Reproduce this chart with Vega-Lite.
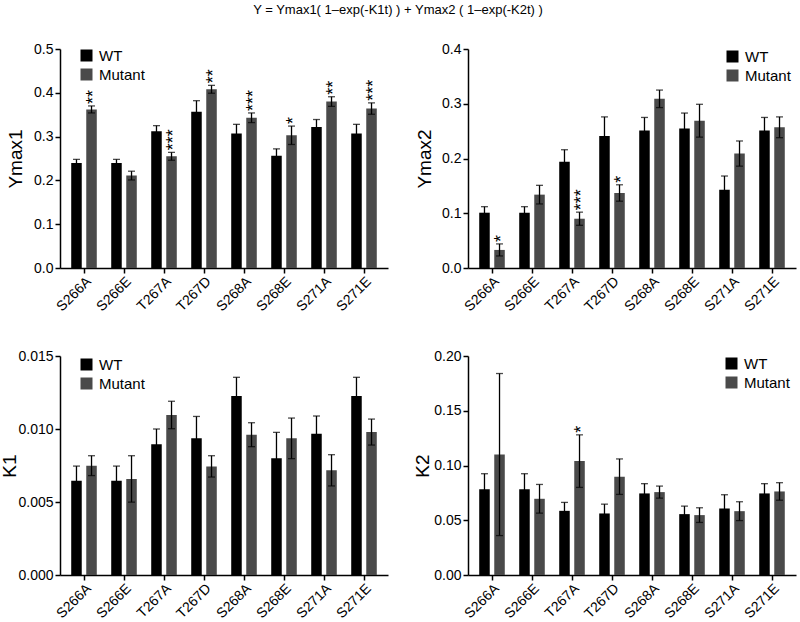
{
  "$schema": "https://vega.github.io/schema/vega-lite/v6.json",
  "description": "Two-phase fit parameters, WT vs mutant",
  "title": {"text": "Y = Ymax1( 1–exp(-K1t) ) + Ymax2 ( 1–exp(-K2t) )", "fontSize": 13, "fontWeight": "normal", "anchor": "middle", "offset": 25, "color": "black"},
  "padding": {"left": 0, "top": 4, "right": 4, "bottom": 4},
  "bounds": "flush",
  "columns": 2,
  "spacing": {"row": 88, "column": 80},
  "datasets": {
    "ymax1": [
      {"mutation": "S266A", "genotype": "WT", "mean": 0.240, "lo": 0.232, "hi": 0.248, "sig": ""},
      {"mutation": "S266A", "genotype": "Mutant", "mean": 0.362, "lo": 0.354, "hi": 0.370, "sig": "**"},
      {"mutation": "S266E", "genotype": "WT", "mean": 0.240, "lo": 0.232, "hi": 0.248, "sig": ""},
      {"mutation": "S266E", "genotype": "Mutant", "mean": 0.211, "lo": 0.201, "hi": 0.221, "sig": ""},
      {"mutation": "T267A", "genotype": "WT", "mean": 0.312, "lo": 0.299, "hi": 0.325, "sig": ""},
      {"mutation": "T267A", "genotype": "Mutant", "mean": 0.255, "lo": 0.246, "hi": 0.264, "sig": "***"},
      {"mutation": "T267D", "genotype": "WT", "mean": 0.357, "lo": 0.332, "hi": 0.382, "sig": ""},
      {"mutation": "T267D", "genotype": "Mutant", "mean": 0.408, "lo": 0.399, "hi": 0.417, "sig": "**"},
      {"mutation": "S268A", "genotype": "WT", "mean": 0.307, "lo": 0.286, "hi": 0.328, "sig": ""},
      {"mutation": "S268A", "genotype": "Mutant", "mean": 0.343, "lo": 0.332, "hi": 0.354, "sig": "***"},
      {"mutation": "S268E", "genotype": "WT", "mean": 0.256, "lo": 0.240, "hi": 0.272, "sig": ""},
      {"mutation": "S268E", "genotype": "Mutant", "mean": 0.303, "lo": 0.282, "hi": 0.324, "sig": "*"},
      {"mutation": "S271A", "genotype": "WT", "mean": 0.322, "lo": 0.305, "hi": 0.339, "sig": ""},
      {"mutation": "S271A", "genotype": "Mutant", "mean": 0.380, "lo": 0.369, "hi": 0.391, "sig": "**"},
      {"mutation": "S271E", "genotype": "WT", "mean": 0.307, "lo": 0.286, "hi": 0.328, "sig": ""},
      {"mutation": "S271E", "genotype": "Mutant", "mean": 0.364, "lo": 0.351, "hi": 0.377, "sig": "***"}
    ],
    "ymax2": [
      {"mutation": "S266A", "genotype": "WT", "mean": 0.101, "lo": 0.090, "hi": 0.112, "sig": ""},
      {"mutation": "S266A", "genotype": "Mutant", "mean": 0.033, "lo": 0.022, "hi": 0.044, "sig": "*"},
      {"mutation": "S266E", "genotype": "WT", "mean": 0.101, "lo": 0.090, "hi": 0.112, "sig": ""},
      {"mutation": "S266E", "genotype": "Mutant", "mean": 0.134, "lo": 0.117, "hi": 0.151, "sig": ""},
      {"mutation": "T267A", "genotype": "WT", "mean": 0.194, "lo": 0.172, "hi": 0.216, "sig": ""},
      {"mutation": "T267A", "genotype": "Mutant", "mean": 0.090, "lo": 0.078, "hi": 0.102, "sig": "***"},
      {"mutation": "T267D", "genotype": "WT", "mean": 0.241, "lo": 0.206, "hi": 0.276, "sig": ""},
      {"mutation": "T267D", "genotype": "Mutant", "mean": 0.137, "lo": 0.122, "hi": 0.152, "sig": "*"},
      {"mutation": "S268A", "genotype": "WT", "mean": 0.251, "lo": 0.227, "hi": 0.275, "sig": ""},
      {"mutation": "S268A", "genotype": "Mutant", "mean": 0.309, "lo": 0.293, "hi": 0.325, "sig": ""},
      {"mutation": "S268E", "genotype": "WT", "mean": 0.255, "lo": 0.227, "hi": 0.283, "sig": ""},
      {"mutation": "S268E", "genotype": "Mutant", "mean": 0.269, "lo": 0.239, "hi": 0.299, "sig": ""},
      {"mutation": "S271A", "genotype": "WT", "mean": 0.143, "lo": 0.118, "hi": 0.168, "sig": ""},
      {"mutation": "S271A", "genotype": "Mutant", "mean": 0.209, "lo": 0.186, "hi": 0.232, "sig": ""},
      {"mutation": "S271E", "genotype": "WT", "mean": 0.251, "lo": 0.227, "hi": 0.275, "sig": ""},
      {"mutation": "S271E", "genotype": "Mutant", "mean": 0.257, "lo": 0.238, "hi": 0.276, "sig": ""}
    ],
    "k1": [
      {"mutation": "S266A", "genotype": "WT", "mean": 0.00646, "lo": 0.00546, "hi": 0.00746, "sig": ""},
      {"mutation": "S266A", "genotype": "Mutant", "mean": 0.00749, "lo": 0.00681, "hi": 0.00817, "sig": ""},
      {"mutation": "S266E", "genotype": "WT", "mean": 0.00646, "lo": 0.00546, "hi": 0.00746, "sig": ""},
      {"mutation": "S266E", "genotype": "Mutant", "mean": 0.00658, "lo": 0.00499, "hi": 0.00817, "sig": ""},
      {"mutation": "T267A", "genotype": "WT", "mean": 0.00895, "lo": 0.00790, "hi": 0.01000, "sig": ""},
      {"mutation": "T267A", "genotype": "Mutant", "mean": 0.01096, "lo": 0.01002, "hi": 0.01190, "sig": ""},
      {"mutation": "T267D", "genotype": "WT", "mean": 0.00936, "lo": 0.00786, "hi": 0.01086, "sig": ""},
      {"mutation": "T267D", "genotype": "Mutant", "mean": 0.00744, "lo": 0.00671, "hi": 0.00817, "sig": ""},
      {"mutation": "S268A", "genotype": "WT", "mean": 0.01226, "lo": 0.01098, "hi": 0.01354, "sig": ""},
      {"mutation": "S268A", "genotype": "Mutant", "mean": 0.00961, "lo": 0.00879, "hi": 0.01043, "sig": ""},
      {"mutation": "S268E", "genotype": "WT", "mean": 0.00799, "lo": 0.00621, "hi": 0.00977, "sig": ""},
      {"mutation": "S268E", "genotype": "Mutant", "mean": 0.00936, "lo": 0.00797, "hi": 0.01075, "sig": ""},
      {"mutation": "S271A", "genotype": "WT", "mean": 0.00968, "lo": 0.00847, "hi": 0.01089, "sig": ""},
      {"mutation": "S271A", "genotype": "Mutant", "mean": 0.00717, "lo": 0.00610, "hi": 0.00824, "sig": ""},
      {"mutation": "S271E", "genotype": "WT", "mean": 0.01226, "lo": 0.01098, "hi": 0.01354, "sig": ""},
      {"mutation": "S271E", "genotype": "Mutant", "mean": 0.00979, "lo": 0.00890, "hi": 0.01068, "sig": ""}
    ],
    "k2": [
      {"mutation": "S266A", "genotype": "WT", "mean": 0.0782, "lo": 0.0639, "hi": 0.0925, "sig": ""},
      {"mutation": "S266A", "genotype": "Mutant", "mean": 0.110, "lo": 0.036, "hi": 0.184, "sig": ""},
      {"mutation": "S266E", "genotype": "WT", "mean": 0.0782, "lo": 0.0639, "hi": 0.0925, "sig": ""},
      {"mutation": "S266E", "genotype": "Mutant", "mean": 0.0696, "lo": 0.0565, "hi": 0.0827, "sig": ""},
      {"mutation": "T267A", "genotype": "WT", "mean": 0.0586, "lo": 0.0509, "hi": 0.0663, "sig": ""},
      {"mutation": "T267A", "genotype": "Mutant", "mean": 0.104, "lo": 0.080, "hi": 0.128, "sig": "*"},
      {"mutation": "T267D", "genotype": "WT", "mean": 0.0562, "lo": 0.0477, "hi": 0.0647, "sig": ""},
      {"mutation": "T267D", "genotype": "Mutant", "mean": 0.0898, "lo": 0.0736, "hi": 0.106, "sig": ""},
      {"mutation": "S268A", "genotype": "WT", "mean": 0.0745, "lo": 0.0656, "hi": 0.0834, "sig": ""},
      {"mutation": "S268A", "genotype": "Mutant", "mean": 0.0757, "lo": 0.0702, "hi": 0.0812, "sig": ""},
      {"mutation": "S268E", "genotype": "WT", "mean": 0.0556, "lo": 0.0483, "hi": 0.0629, "sig": ""},
      {"mutation": "S268E", "genotype": "Mutant", "mean": 0.0547, "lo": 0.0480, "hi": 0.0614, "sig": ""},
      {"mutation": "S271A", "genotype": "WT", "mean": 0.0608, "lo": 0.0483, "hi": 0.0733, "sig": ""},
      {"mutation": "S271A", "genotype": "Mutant", "mean": 0.0583, "lo": 0.0497, "hi": 0.0669, "sig": ""},
      {"mutation": "S271E", "genotype": "WT", "mean": 0.0745, "lo": 0.0656, "hi": 0.0834, "sig": ""},
      {"mutation": "S271E", "genotype": "Mutant", "mean": 0.0763, "lo": 0.0683, "hi": 0.0843, "sig": ""}
    ]
  },
  "concat": [
    {
      "width": 328, "height": 219,
      "data": {"name": "ymax1"},
      "encoding": {
        "x": {"field": "mutation", "type": "nominal", "sort": null, "scale": {"paddingInner": 0, "paddingOuter": 0.1}, "axis": {"title": null, "labelAngle": -45}},
        "xOffset": {"field": "genotype", "type": "nominal", "sort": ["WT", "Mutant"], "scale": {"paddingInner": 0.3, "paddingOuter": 0.48}}
      },
      "layer": [
        {"mark": {"type": "bar"},
         "encoding": {
           "y": {"field": "mean", "type": "quantitative", "title": "Ymax1", "scale": {"domain": [0, 0.5], "nice": false}, "axis": {"values": [0, 0.1, 0.2, 0.3, 0.4, 0.5], "format": ".1f", "titleX": -45, "titleY": 109.5}},
           "color": {"field": "genotype", "type": "nominal", "sort": ["WT", "Mutant"], "scale": {"domain": ["WT", "Mutant"], "range": ["#000000", "#4a4a4a"]}, "legend": {"legendX": 19, "legendY": -1}}
         }},
        {"mark": {"type": "rule", "color": "black", "strokeWidth": 1.3},
         "encoding": {"y": {"field": "lo", "type": "quantitative", "title": "Ymax1"}, "y2": {"field": "hi"}}},
        {"mark": {"type": "tick", "color": "black", "size": 7, "thickness": 1.3},
         "encoding": {"y": {"field": "hi", "type": "quantitative", "title": "Ymax1"}}},
        {"mark": {"type": "tick", "color": "black", "size": 7, "thickness": 1.3},
         "encoding": {"y": {"field": "lo", "type": "quantitative", "title": "Ymax1"}}},
        {"mark": {"type": "text", "color": "black", "angle": 270, "align": "left", "baseline": "middle", "dx": 2, "dy": 2.5, "fontSize": 18},
         "encoding": {"y": {"field": "hi", "type": "quantitative", "title": "Ymax1"}, "text": {"field": "sig"}}}
      ]
    },
    {
      "width": 328, "height": 219,
      "data": {"name": "ymax2"},
      "encoding": {
        "x": {"field": "mutation", "type": "nominal", "sort": null, "scale": {"paddingInner": 0, "paddingOuter": 0.1}, "axis": {"title": null, "labelAngle": -45}},
        "xOffset": {"field": "genotype", "type": "nominal", "sort": ["WT", "Mutant"], "scale": {"paddingInner": 0.3, "paddingOuter": 0.48}}
      },
      "layer": [
        {"mark": {"type": "bar"},
         "encoding": {
           "y": {"field": "mean", "type": "quantitative", "title": "Ymax2", "scale": {"domain": [0, 0.4], "nice": false}, "axis": {"values": [0, 0.1, 0.2, 0.3, 0.4], "format": ".1f", "titleX": -44, "titleY": 109.5}},
           "color": {"field": "genotype", "type": "nominal", "sort": ["WT", "Mutant"], "scale": {"domain": ["WT", "Mutant"], "range": ["#000000", "#4a4a4a"]}, "legend": {"legendX": 257, "legendY": 0}}
         }},
        {"mark": {"type": "rule", "color": "black", "strokeWidth": 1.3},
         "encoding": {"y": {"field": "lo", "type": "quantitative", "title": "Ymax2"}, "y2": {"field": "hi"}}},
        {"mark": {"type": "tick", "color": "black", "size": 7, "thickness": 1.3},
         "encoding": {"y": {"field": "hi", "type": "quantitative", "title": "Ymax2"}}},
        {"mark": {"type": "tick", "color": "black", "size": 7, "thickness": 1.3},
         "encoding": {"y": {"field": "lo", "type": "quantitative", "title": "Ymax2"}}},
        {"mark": {"type": "text", "color": "black", "angle": 270, "align": "left", "baseline": "middle", "dx": 2, "dy": 2.5, "fontSize": 18},
         "encoding": {"y": {"field": "hi", "type": "quantitative", "title": "Ymax2"}, "text": {"field": "sig"}}}
      ]
    },
    {
      "width": 328, "height": 219,
      "data": {"name": "k1"},
      "encoding": {
        "x": {"field": "mutation", "type": "nominal", "sort": null, "scale": {"paddingInner": 0, "paddingOuter": 0.1}, "axis": {"title": null, "labelAngle": -45}},
        "xOffset": {"field": "genotype", "type": "nominal", "sort": ["WT", "Mutant"], "scale": {"paddingInner": 0.3, "paddingOuter": 0.48}}
      },
      "layer": [
        {"mark": {"type": "bar"},
         "encoding": {
           "y": {"field": "mean", "type": "quantitative", "title": "K1", "scale": {"domain": [0, 0.015], "nice": false}, "axis": {"values": [0, 0.005, 0.01, 0.015], "format": ".3f", "titleX": -51, "titleY": 109.5}},
           "color": {"field": "genotype", "type": "nominal", "sort": ["WT", "Mutant"], "scale": {"domain": ["WT", "Mutant"], "range": ["#000000", "#4a4a4a"]}, "legend": {"legendX": 19, "legendY": 1}}
         }},
        {"mark": {"type": "rule", "color": "black", "strokeWidth": 1.3},
         "encoding": {"y": {"field": "lo", "type": "quantitative", "title": "K1"}, "y2": {"field": "hi"}}},
        {"mark": {"type": "tick", "color": "black", "size": 7, "thickness": 1.3},
         "encoding": {"y": {"field": "hi", "type": "quantitative", "title": "K1"}}},
        {"mark": {"type": "tick", "color": "black", "size": 7, "thickness": 1.3},
         "encoding": {"y": {"field": "lo", "type": "quantitative", "title": "K1"}}}
      ]
    },
    {
      "width": 328, "height": 219,
      "data": {"name": "k2"},
      "encoding": {
        "x": {"field": "mutation", "type": "nominal", "sort": null, "scale": {"paddingInner": 0, "paddingOuter": 0.1}, "axis": {"title": null, "labelAngle": -45}},
        "xOffset": {"field": "genotype", "type": "nominal", "sort": ["WT", "Mutant"], "scale": {"paddingInner": 0.3, "paddingOuter": 0.48}}
      },
      "layer": [
        {"mark": {"type": "bar"},
         "encoding": {
           "y": {"field": "mean", "type": "quantitative", "title": "K2", "scale": {"domain": [0, 0.2], "nice": false}, "axis": {"values": [0, 0.05, 0.1, 0.15, 0.2], "format": ".2f", "titleX": -46, "titleY": 109.5}},
           "color": {"field": "genotype", "type": "nominal", "sort": ["WT", "Mutant"], "scale": {"domain": ["WT", "Mutant"], "range": ["#000000", "#4a4a4a"]}, "legend": {"legendX": 256, "legendY": 0}}
         }},
        {"mark": {"type": "rule", "color": "black", "strokeWidth": 1.3},
         "encoding": {"y": {"field": "lo", "type": "quantitative", "title": "K2"}, "y2": {"field": "hi"}}},
        {"mark": {"type": "tick", "color": "black", "size": 7, "thickness": 1.3},
         "encoding": {"y": {"field": "hi", "type": "quantitative", "title": "K2"}}},
        {"mark": {"type": "tick", "color": "black", "size": 7, "thickness": 1.3},
         "encoding": {"y": {"field": "lo", "type": "quantitative", "title": "K2"}}},
        {"mark": {"type": "text", "color": "black", "angle": 270, "align": "left", "baseline": "middle", "dx": 2, "dy": 2.5, "fontSize": 18},
         "encoding": {"y": {"field": "hi", "type": "quantitative", "title": "K2"}, "text": {"field": "sig"}}}
      ]
    }
  ],
  "resolve": {"scale": {"color": "independent"}, "legend": {"color": "independent"}},
  "config": {
    "font": "Liberation Sans",
    "view": {"stroke": null},
    "axis": {
      "grid": false,
      "domainColor": "black",
      "domainWidth": 1.5,
      "tickColor": "black",
      "tickWidth": 1.5,
      "tickSize": 5,
      "labelColor": "black",
      "labelFontSize": 14,
      "labelPadding": 2,
      "titleColor": "black",
      "titleFontSize": 19,
      "titleFontWeight": "normal",
      "titleAngle": -90,
      "titleBaseline": "middle",
      "titleAlign": "center"
    },
    "axisX": {"labelFontSize": 14, "labelPadding": 1},
    "legend": {
      "orient": "none",
      "title": null,
      "symbolType": "square",
      "symbolSize": 144,
      "symbolStrokeWidth": 0,
      "symbolOpacity": 1,
      "labelFontSize": 15,
      "labelColor": "black",
      "labelOffset": 5,
      "rowPadding": 3
    }
  }
}
